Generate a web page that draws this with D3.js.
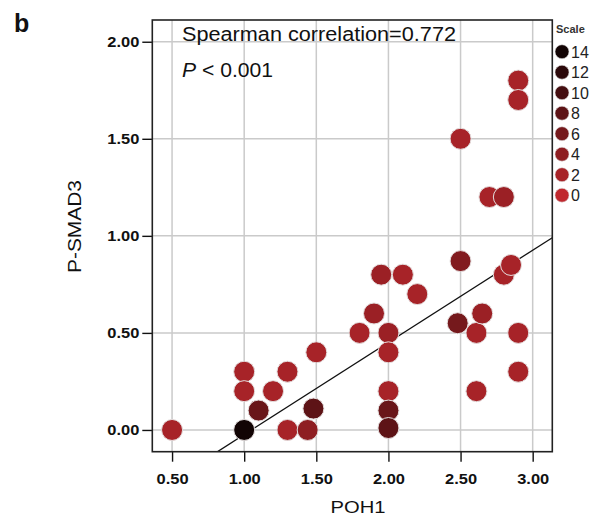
<!DOCTYPE html>
<html>
<head>
<meta charset="utf-8">
<script src="https://d3js.org/d3.v7.min.js"></script>
<style>
  body { margin: 0; background: #fff; }
  svg { font-family: "Liberation Sans", Arial, sans-serif; }
</style>
</head>
<body>
<div id="chart"></div>
<script>
var width = 597, height = 519;

// data
var poh1   = [0.50, 1.00, 1.00, 1.00, 1.10, 1.20, 1.30, 1.30, 1.44, 1.48, 1.50, 1.80, 1.90, 1.95, 2.00, 2.00, 2.00, 2.00, 2.00, 2.10, 2.20, 2.48, 2.50, 2.50, 2.61, 2.61, 2.65, 2.70, 2.80, 2.80, 2.85, 2.90, 2.90, 2.90, 2.90];
var psmad3 = [0.00, 0.30, 0.20, 0.00, 0.10, 0.20, 0.30, 0.00, 0.00, 0.11, 0.40, 0.50, 0.60, 0.80, 0.50, 0.40, 0.20, 0.10, 0.01, 0.80, 0.70, 0.55, 0.87, 1.50, 0.50, 0.20, 0.60, 1.20, 1.20, 0.80, 0.85, 1.80, 1.70, 0.50, 0.30];
var scaleVal = [2, 2, 2, 14, 7, 2, 2, 2, 4, 8, 2, 2, 3, 3, 3, 2, 2, 7, 8, 2, 2, 6, 5, 2, 2, 2, 3, 2, 3, 2, 2, 2, 2, 2, 2];

var xTicks = [0.5, 1.0, 1.5, 2.0, 2.5, 3.0];
var yTicks = [0.0, 0.5, 1.0, 1.5, 2.0];
var legendVals = [14, 12, 10, 8, 6, 4, 2, 0];
var fitSlope = 0.475, fitIntercept = -0.499;

var x = d3.scaleLinear().domain([0.363, 3.136]).range([152.3, 552.3]);
var y = d3.scaleLinear().domain([-0.112, 2.112]).range([451.7, 20]);
var color = d3.scaleLinear().domain([0, 14]).range(["#c0282e", "#120404"]);

var svg = d3.select("#chart").append("svg")
    .attr("width", width)
    .attr("height", height);

svg.append("clipPath").attr("id", "plotclip")
  .append("rect")
    .attr("x", x.range()[0]).attr("y", y.range()[1])
    .attr("width", x.range()[1] - x.range()[0])
    .attr("height", y.range()[0] - y.range()[1]);

// grid
svg.append("g").selectAll("line").data(xTicks).join("line")
    .attr("x1", d => x(d)).attr("x2", d => x(d))
    .attr("y1", y.range()[0]).attr("y2", y.range()[1])
    .attr("stroke", "#cacaca").attr("stroke-width", 1.5);
svg.append("g").selectAll("line").data(yTicks).join("line")
    .attr("y1", d => y(d)).attr("y2", d => y(d))
    .attr("x1", x.range()[0]).attr("x2", x.range()[1])
    .attr("stroke", "#cacaca").attr("stroke-width", 1.5);

// axes
var xAxis = svg.append("g")
    .attr("transform", `translate(0,${y.range()[0]})`)
    .call(d3.axisBottom(x).tickValues(xTicks).tickFormat(d3.format(".2f")).tickSize(10).tickPadding(12));
var yAxis = svg.append("g")
    .attr("transform", `translate(${x.range()[0]},0)`)
    .call(d3.axisLeft(y).tickValues(yTicks).tickFormat(d3.format(".2f")).tickSize(10).tickPadding(3));

[xAxis, yAxis].forEach(function(g) {
  g.select(".domain").remove();
  g.selectAll(".tick line").attr("stroke", "#111").attr("stroke-width", 1.4);
  g.selectAll(".tick text")
    .attr("fill", "#111")
    .attr("font-family", "Liberation Sans, Arial, sans-serif")
    .attr("font-size", 15)
    .attr("font-weight", "bold")
    .attr("textLength", 32)
    .attr("lengthAdjust", "spacingAndGlyphs");
});

// fit line
svg.append("line")
    .attr("clip-path", "url(#plotclip)")
    .attr("x1", x(x.domain()[0])).attr("y1", y(fitIntercept + fitSlope * x.domain()[0]))
    .attr("x2", x(x.domain()[1])).attr("y2", y(fitIntercept + fitSlope * x.domain()[1]))
    .attr("stroke", "#111").attr("stroke-width", 1.3);

// points
var pts = poh1.map((d, i) => ({x: d, y: psmad3[i], s: scaleVal[i]}));
svg.append("g").attr("clip-path", "url(#plotclip)")
  .selectAll("circle").data(pts).join("circle")
    .attr("cx", d => x(d.x))
    .attr("cy", d => y(d.y))
    .attr("r", 10.5)
    .attr("fill", d => color(d.s))
    .attr("stroke", "#e4dede")
    .attr("stroke-width", 1);

// frame
svg.append("rect")
    .attr("x", x.range()[0]).attr("y", y.range()[1])
    .attr("width", x.range()[1] - x.range()[0])
    .attr("height", y.range()[0] - y.range()[1])
    .attr("fill", "none").attr("stroke", "#222").attr("stroke-width", 1.6);

// annotation text
svg.append("text")
    .attr("x", 182).attr("y", 41)
    .attr("font-size", 20)
    .attr("textLength", 274).attr("lengthAdjust", "spacingAndGlyphs")
    .attr("fill", "#111")
    .text("Spearman correlation=0.772");
var pt = svg.append("text")
    .attr("x", 182).attr("y", 77)
    .attr("font-size", 20)
    .attr("textLength", 91).attr("lengthAdjust", "spacingAndGlyphs")
    .attr("fill", "#111");
pt.append("tspan").attr("font-style", "italic").text("P");
pt.append("tspan").text(" < 0.001");

svg.append("text")
    .attr("x", 14).attr("y", 32)
    .attr("font-size", 25).attr("font-weight", "bold")
    .attr("fill", "#111")
    .text("b");

// axis titles
svg.append("text")
    .attr("x", 358).attr("y", 513)
    .attr("text-anchor", "middle")
    .attr("font-size", 17)
    .attr("textLength", 55).attr("lengthAdjust", "spacingAndGlyphs")
    .attr("fill", "#111")
    .text("POH1");
svg.append("text")
    .attr("transform", "translate(81,226.5) rotate(-90)")
    .attr("text-anchor", "middle")
    .attr("font-size", 18)
    .attr("textLength", 93).attr("lengthAdjust", "spacingAndGlyphs")
    .attr("fill", "#111")
    .text("P-SMAD3");

// legend
var lg = svg.append("g");
lg.append("text")
    .attr("x", 556).attr("y", 33)
    .attr("font-size", 11).attr("font-weight", "bold")
    .attr("fill", "#333")
    .text("Scale");
var item = lg.selectAll(".li").data(legendVals).join("g")
    .attr("class", "li")
    .attr("transform", (d, i) => `translate(562,${51.7 + i * 20.5})`);
item.append("circle")
    .attr("r", 7)
    .attr("fill", d => color(d))
    .attr("stroke", "#ddd").attr("stroke-width", 0.6);
item.append("text")
    .attr("x", 9).attr("y", 6)
    .attr("font-size", 16)
    .attr("fill", "#222")
    .text(d => d);
</script>
</body>
</html>
